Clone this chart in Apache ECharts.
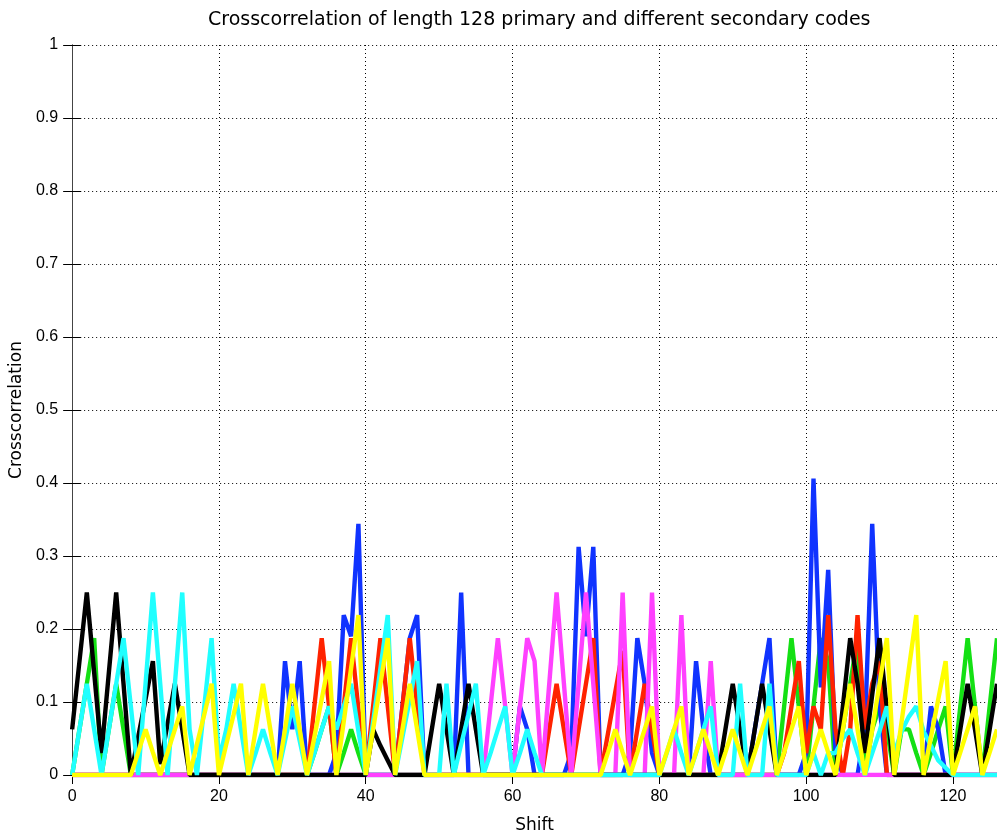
<!DOCTYPE html>
<html>
<head>
<meta charset="utf-8">
<script src="https://cdn.jsdelivr.net/npm/echarts@6/dist/echarts.min.js"></script>
<style>
html,body{margin:0;padding:0;background:#fff;}
#chart{width:997px;height:839px;}
</style>
</head>
<body>
<div id="chart"></div>
<script>
var titleText = 'Crosscorrelation of length 128 primary and different secondary codes';
var xName = 'Shift';
var yName = 'Crosscorrelation';

var black = [
0.0625,0.156,0.25,0.14,0.03,0.14,0.25,0.125,0,0.052,
0.104,0.156,0.015,0.07,0.125,0.0625,0,0,0,0,
0,0,0,0,0,0,0,0,0,0,
0,0,0,0,0,0,0,0,0,0,
0,0.0625,0.04,0.02,0,0,0,0,0,0.0625,
0.125,0.0625,0,0.0625,0.125,0.0625,0,0,0,0,
0,0,0,0,0,0,0,0,0,0,
0,0,0,0,0,0,0,0,0,0,
0,0,0,0,0,0,0,0,0,0.0625,
0.125,0.0625,0,0.0625,0.125,0.0625,0,0,0,0,
0,0,0,0,0,0.094,0.1875,0.125,0.03,0.11,
0.1875,0.09,0,0,0,0,0,0,0,0,
0,0.0625,0.125,0.0625,0,0.0625,0.125];

var blue = [
0,0,0,0,0,0,0,0,0,0,
0,0,0,0,0,0,0,0,0,0,
0,0,0,0,0,0,0,0,0,0.156,
0.0625,0.156,0,0,0,0,0.03,0.219,0.19,0.344,
0,0,0,0,0,0.094,0.1875,0.219,0,0,
0,0,0,0.25,0,0,0,0,0,0,
0,0.094,0.0625,0,0,0,0,0,0.03,0.3125,
0.19,0.3125,0,0,0,0,0.03,0.1875,0.125,0.03,
0,0,0,0,0,0.156,0.0625,0,0,0,
0,0,0,0.0625,0.125,0.1875,0,0,0,0,
0.03,0.406,0.12,0.281,0.03,0,0,0,0.0625,0.344,
0.094,0,0,0,0,0,0,0.094,0.0625,0,
0,0,0,0,0,0,0];

var red = [
0,0,0,0,0,0,0,0,0,0,
0,0,0,0,0,0,0,0,0,0,
0,0,0,0,0,0,0,0,0,0,
0,0,0,0.094,0.1875,0.094,0,0.094,0.1875,0.09,
0,0.094,0.1875,0.094,0,0.094,0.1875,0.094,0,0,
0,0,0,0,0,0,0,0,0,0,
0,0,0,0,0,0.0625,0.125,0.0625,0,0.0625,
0.125,0.1875,0,0.057,0.114,0.17,0,0.0625,0.125,0.0625,
0,0,0,0,0,0,0,0,0,0,
0,0,0,0,0,0,0,0.03,0.094,0.156,
0.03,0.094,0.0625,0.219,0.0625,0,0.0625,0.219,0.0625,0.125,
0.156,0,0,0,0,0,0,0,0,0,
0,0,0,0,0,0,0];

var green = [
0,0.0625,0.125,0.1875,0,0.0625,0.125,0.0625,0,0,
0,0,0,0,0,0,0,0,0,0,
0,0,0,0,0,0,0,0,0,0,
0,0,0,0.03,0.0625,0.094,0,0.03,0.0625,0.03,
0,0,0,0,0,0,0,0,0,0,
0,0,0,0,0,0,0,0,0,0,
0,0,0,0,0,0,0,0,0,0,
0,0,0,0,0,0,0,0,0,0,
0,0,0,0,0,0,0,0,0,0,
0,0,0,0,0,0,0,0.094,0.1875,0.094,
0,0.094,0.1875,0.156,0,0.0625,0.125,0.1875,0,0.0625,
0.094,0.0625,0,0.0625,0.0625,0.03,0,0.03,0.0625,0.094,
0,0.094,0.1875,0.094,0,0.094,0.1875];

var magenta = [
0,0,0,0,0,0,0,0,0,0,
0,0,0,0,0,0,0,0,0,0,
0,0,0,0,0,0,0,0,0,0,
0,0,0,0,0,0,0,0,0,0,
0,0,0,0,0,0,0,0,0,0,
0,0,0,0,0,0,0,0.094,0.1875,0.094,
0,0.094,0.1875,0.156,0,0.125,0.25,0.125,0,0.125,
0.25,0.125,0,0,0,0.25,0,0,0,0.25,
0,0,0,0.219,0,0,0,0.156,0,0,
0,0,0,0,0,0,0,0,0,0,
0,0,0,0,0,0,0,0,0,0,
0,0,0,0,0,0,0,0,0,0,
0,0,0,0,0,0,0];

var cyan = [
0,0.0625,0.125,0.0625,0,0.0625,0.125,0.1875,0.094,0,
0.125,0.25,0.125,0,0.125,0.25,0.0625,0,0.094,0.1875,
0.02,0.0625,0.125,0.0625,0,0.03,0.0625,0.03,0,0.047,
0.094,0.047,0,0.03,0.0625,0.094,0.0625,0.094,0.125,0.06,
0,0.073,0.146,0.219,0,0.052,0.104,0.156,0,0,
0,0.125,0,0.042,0.083,0.125,0,0.03,0.0625,0.094,
0,0.03,0.0625,0.03,0,0,0,0,0,0,
0,0,0,0,0,0,0,0,0,0,
0,0.03,0.0625,0.03,0,0.03,0.0625,0.094,0,0,
0,0.125,0,0,0,0.125,0,0,0,0,
0,0.03,0,0.03,0.03,0.05,0.0625,0.03,0,0.03,
0.06,0.094,0.03,0.06,0.08,0.094,0.06,0.04,0.02,0.01,
0,0,0,0,0,0,0];

var yellow = [
0,0,0,0,0,0,0,0,0,0.031,
0.0625,0.031,0,0.031,0.0625,0.094,0,0.042,0.083,0.125,
0,0.042,0.083,0.125,0,0.0625,0.125,0.0625,0,0.0625,
0.125,0.0625,0,0.052,0.104,0.156,0,0.073,0.146,0.219,
0,0.0625,0.125,0.1875,0,0.0625,0.125,0.0625,0,0,
0,0,0,0,0,0,0,0,0,0,
0,0,0,0,0,0,0,0,0,0,
0,0,0,0.031,0.0625,0.031,0,0.031,0.0625,0.094,
0,0.031,0.0625,0.094,0,0.031,0.0625,0.031,0,0.031,
0.0625,0.031,0,0.031,0.0625,0.094,0,0.031,0.0625,0.094,
0,0.031,0.0625,0.031,0,0.0625,0.125,0.0625,0,0.0625,
0.125,0.1875,0,0.073,0.146,0.219,0,0.052,0.104,0.156,
0,0.031,0.0625,0.094,0,0.031,0.0625];

// drawing order: first is drawn at the bottom
var seriesDefs = [
  {name:'green', data:green, color:'#14e014'},
  {name:'blue', data:blue, color:'#1033ff'},
  {name:'red', data:red, color:'#ff2200'},
  {name:'magenta', data:magenta, color:'#ff40ff'},
  {name:'black', data:black, color:'#000000'},
  {name:'cyan', data:cyan, color:'#20ffff'},
  {name:'yellow', data:yellow, color:'#ffff00'}
];

function toPairs(arr){
  var out = [];
  for (var i = 0; i < arr.length; i++) out.push([i, arr[i]]);
  return out;
}

var tickFont = 'Liberation Sans, Helvetica, Arial, sans-serif';
var labelFont = 'DejaVu Sans, sans-serif';
var chart = echarts.init(document.getElementById('chart'), null, {renderer:'canvas'});
var series = seriesDefs.map(function(s, i){
  return {
    name: s.name, type:'line', data: toPairs(s.data),
    showSymbol:false, symbol:'none', animation:false,
    lineStyle:{color:s.color, width:4.4, join:'bevel'},
    itemStyle:{color:s.color},
    z: 2 + i
  };
});

chart.setOption({
  animation:false,
  backgroundColor:'#ffffff',
  title:{text:titleText, left:203, top:6,
    textStyle:{fontFamily:labelFont, fontSize:19, fontWeight:'normal', color:'#000'}},
  grid:{left:71.5, right:0, top:45, bottom:59, containLabel:false},
  xAxis:[{
    type:'value', min:0, max:126, interval:20,
    name:xName, nameLocation:'middle', nameGap:42,
    nameTextStyle:{fontFamily:labelFont, fontSize:17, color:'#000'},
    axisLine:{show:true, lineStyle:{color:'#444', width:1}},
    axisTick:{show:true, inside:true, length:9, lineStyle:{color:'#000'}},
    axisLabel:{fontFamily:tickFont, fontSize:16, color:'#000', margin:14, showMaxLabel:false},
    splitLine:{show:true, lineStyle:{color:'#000', width:1, type:[1,3]}}
  },{
    type:'value', min:0, max:126, interval:20, position:'top',
    axisLine:{show:true, lineStyle:{color:'#444', width:1}},
    axisTick:{show:true, inside:true, length:9, lineStyle:{color:'#000'}},
    axisLabel:{show:false}, splitLine:{show:false}
  }],
  yAxis:[{
    type:'value', min:0, max:1, interval:0.1,
    name:yName, nameLocation:'middle', nameGap:43, nameRotate:90,
    nameTextStyle:{fontFamily:labelFont, fontSize:17, color:'#000'},
    axisLine:{show:true, lineStyle:{color:'#444', width:1}},
    axisTick:{show:true, inside:true, length:9, lineStyle:{color:'#000'}},
    axisLabel:{fontFamily:tickFont, fontSize:16, color:'#000', margin:14},
    splitLine:{show:true, lineStyle:{color:'#000', width:1, type:[1,3]}}
  },{
    type:'value', min:0, max:1, interval:0.1, position:'right',
    axisLine:{show:true, lineStyle:{color:'#444', width:1}},
    axisTick:{show:true, inside:true, length:9, lineStyle:{color:'#000'}},
    axisLabel:{show:false}, splitLine:{show:false}
  }],
  series: series
});
</script>
</body>
</html>
